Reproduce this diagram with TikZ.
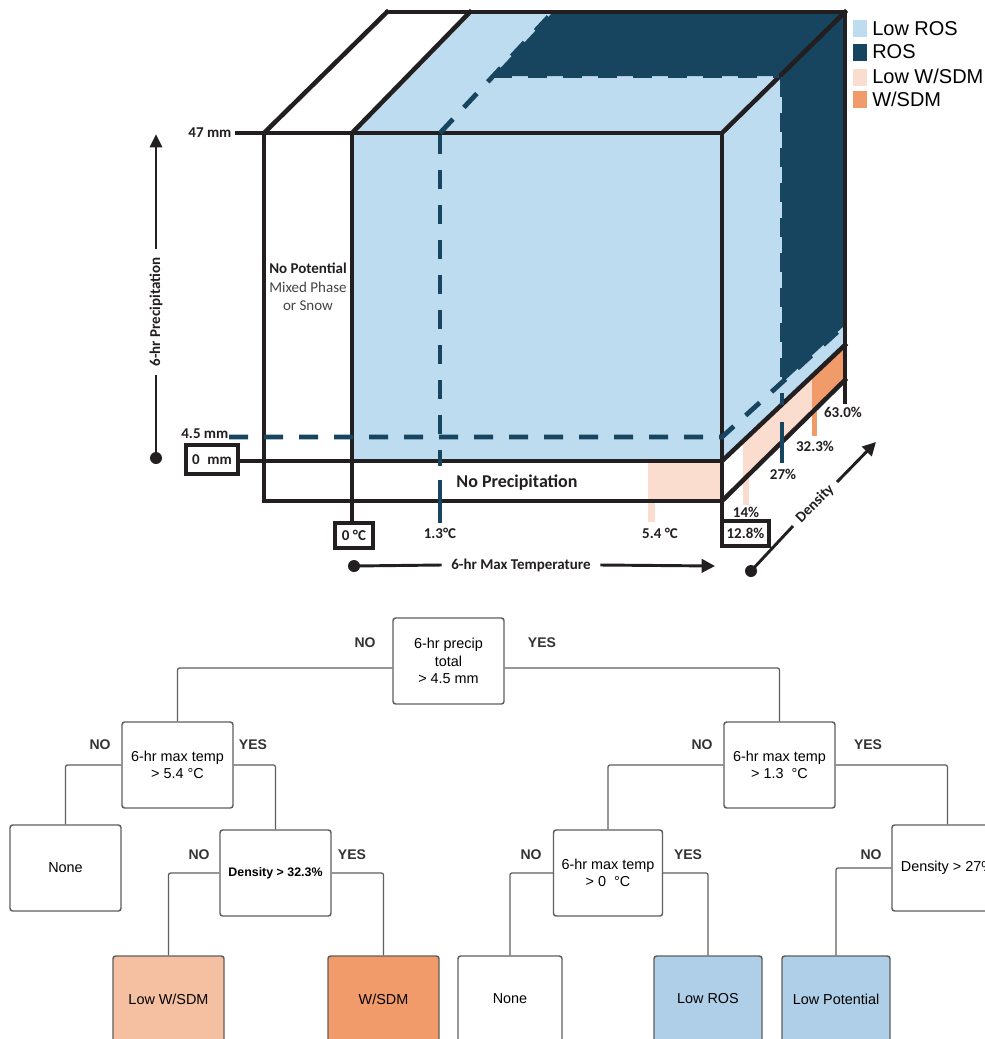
\documentclass[tikz,border=0pt]{standalone}
\usepackage{fontspec}
\setmainfont{Liberation Sans}
\newfontfamily\carl{Carlito}
\usetikzlibrary{arrows.meta,calc}
\definecolor{lblue}{HTML}{BDDCF0}
\definecolor{dblue}{HTML}{17445F}
\definecolor{lpeach}{HTML}{FBDDD0}
\definecolor{orng}{HTML}{F29B6A}
\definecolor{ink}{HTML}{231F20}
\definecolor{softink}{HTML}{444444}
\definecolor{tpeach}{HTML}{F5C0A2}
\definecolor{tblue}{HTML}{AECFE7}
\definecolor{tgray}{HTML}{5F5F5F}
\definecolor{yngray}{HTML}{333333}
\begin{document}
\begin{tikzpicture}[x=0.75pt,y=-0.75pt,
  blk/.style={draw=ink,line width=3.4pt,line cap=rect},
  dsh/.style={draw=dblue,line width=3.6pt,dash pattern=on 14.25pt off 12pt},
  dsolid/.style={draw=dblue,line width=3.6pt},
  lab/.style={font=\carl\bfseries\fontsize{11.25}{13}\selectfont,text=ink,inner sep=1pt},
  vbox/.style={draw=ink,line width=2.5pt,fill=white,font=\carl\bfseries\fontsize{11.25}{13}\selectfont,text=ink,inner sep=0pt},
  axis/.style={draw=ink,line width=2.2pt},
  leg/.style={font=\fontsize{15}{17}\selectfont,text=black,inner sep=0pt,anchor=west},
  tbox/.style={draw=tgray,line width=1.1pt,rounded corners=2pt,minimum width=83.25pt,minimum height=64.5pt,align=center,font=\fontsize{10.8}{13.2}\selectfont,inner sep=0pt,fill=white},
  tlink/.style={draw=tgray,line width=0.95pt,rounded corners=1.5pt},
  yn/.style={font=\bfseries\fontsize{10.5}{12}\selectfont,text=yngray,inner sep=0pt}
]
\useasboundingbox (0,0) rectangle (985,1039);
\fill[white] (0,0) rectangle (985,1039);
\clip (0,0) rectangle (985,1039);

% ---------- cube fills ----------
\fill[lblue] (352,133) rectangle (722,461);
\fill[lblue] (352,133) -- (470,12) -- (845,12) -- (722,133) -- cycle;
\fill[lblue] (722,133) -- (845,12) -- (845,345) -- (722,461) -- cycle;
\fill[dblue] (493,76) -- (782,76) -- (782,383) -- (845,325) -- (845,12) -- (553,12) -- cycle;

\fill[lpeach] (648,461) rectangle (722,501);
\fill[lpeach] (648,501) rectangle (655,522);
\fill[lpeach] (743,441.2) -- (812,376.1) -- (812,412.4) -- (743,480.3) -- cycle;
\fill[lpeach] (743,478) rectangle (749,505);
\fill[orng] (812,376.1) -- (845,345) -- (845,380) -- (812,412.4) -- cycle;
\fill[orng] (812,410) rectangle (817,436);

% ---------- cube black lines ----------
\draw[blk] (237,133) -- (722,133) -- (722,521);
\draw[blk] (387,12) -- (845,12) -- (845,402);
\draw[blk] (264,133) -- (264,501) -- (722,501);
\draw[blk] (352,133) -- (352,523);
\draw[blk] (238,461) -- (722,461);
\draw[blk] (264,133) -- (387,12);
\draw[blk] (352,133) -- (470,12);
\draw[blk] (722,133) -- (845,12);
\draw[blk] (722,461) -- (845,345);
\draw[blk] (722,501) -- (845,380);

% ---------- dashed thresholds ----------
\draw[dsh] (229,437) -- (722,437) -- (845,325);
\draw[dsh] (440,135) -- (440,466);
\draw[dsolid] (440,480) -- (440,523);
\draw[dsh] (440,133) -- (553,12);
\draw[dsh] (493,76) -- (779,76);
\draw[dsh] (782,78) -- (782,405);
\draw[dsolid] (782,422) -- (782,463);

% ---------- cube labels ----------
\node[lab,anchor=east] (l47) at (233,133) {47 mm};
\node[lab,anchor=east] (l45) at (230,434) {4.5 mm};
\node[vbox,minimum width=39pt,minimum height=21.75pt] (l0mm) at (212,459.5) {0\enspace mm};
\node[vbox,minimum width=28.5pt,minimum height=18.75pt] (l0c) at (354,535.5) {0 °C};
\node[vbox,minimum width=35.25pt,minimum height=18.75pt] (l128) at (745.5,533.5) {12.8\%};
\node[lab] (l13) at (440,533) {1.3°C};
\node[lab] (l54) at (660,533) {5.4 °C};
\node[lab] (l14) at (746,512) {14\%};
\node[lab] (l27) at (783,474) {27\%};
\node[lab] (l323) at (815,446) {32.3\%};
\node[lab] (l63) at (843,412) {63.0\%};
\node[font=\carl\bfseries\fontsize{13.5}{16}\selectfont,text=ink] (nprec) at (517,483) {No Precipitation};
\node[align=center,font=\carl\fontsize{11.25}{13.9}\selectfont,text=softink] (npot) at (308,287)
  {\textcolor{ink}{\bfseries No Potential}\\Mixed Phase\\or Snow};

% precipitation axis
\coordinate (pdot) at (156,458);
\coordinate (ptip) at (156,134);
\node[lab,rotate=90,inner sep=0pt] (pl) at (156,312) {6-hr Precipitation};
\fill[ink] (pdot) circle (4.5pt);
\draw[axis] (pdot) -- ($(pl.west)!-6pt!(pl.east)$);
\draw[axis,-{Triangle[length=10pt,width=9pt]}] ($(pl.east)!-6pt!(pl.west)$) -- (ptip);

% temperature axis
\coordinate (tdot) at (354,566);
\coordinate (ttip) at (715,566);
\node[lab,inner sep=0pt] (tl) at (521,565) {6-hr Max Temperature};
\fill[ink] (tdot) circle (4.5pt);
\draw[axis] (tdot) -- ($(tl.west)!-7pt!(tl.east)$);
\draw[axis,-{Triangle[length=10pt,width=10pt]}] ($(tl.east)!-7pt!(tl.west)$) -- (ttip);

% density axis
\coordinate (ddot) at (751,571);
\coordinate (dtip) at (876,442);
\node[lab,rotate=45,inner sep=0pt] (dl) at (815,504) {Density};
\fill[ink] (ddot) circle (4.5pt);
\draw[axis] (ddot) -- ($(dl.west)!-5.5pt!(dl.east)$);
\draw[axis,-{Triangle[length=10pt,width=10pt]}] ($(dl.east)!-5.5pt!(dl.west)$) -- (dtip);

% ---------- legend ----------
\fill[lblue] (853,20) rectangle (867,37);
\fill[dblue] (853,44) rectangle (867,61);
\fill[lpeach] (853,69) rectangle (867,86);
\fill[orng] (853,91) rectangle (867,108);
\node[leg] (lg1) at (872,28.5) {Low ROS};
\node[leg] (lg2) at (872,52) {ROS};
\node[leg] (lg3) at (872,76) {Low W/SDM};
\node[leg] (lg4) at (872,99.5) {W/SDM};

% ---------- decision tree ----------
\node[tbox] (root) at (448.5,661) {6-hr precip\\total\\> 4.5 mm};
\node[tbox] (l2a) at (177.5,765) {6-hr max temp\\> 5.4 °C};
\node[tbox] (l2b) at (779.5,765) {6-hr max temp\\> 1.3\ \ °C};
\node[tbox] (none1) at (65.5,868) {None};
\node[tbox,font=\bfseries\fontsize{9.3}{11}\selectfont] (d32) at (275.5,873) {Density > 32.3\%};
\node[tbox,fill=tpeach] (lwsdm) at (168.5,999) {Low W/SDM};
\node[tbox,fill=orng] (wsdm) at (383.5,999) {W/SDM};
\node[tbox,minimum width=81.75pt] (t0) at (608,873) {6-hr max temp\\> 0\ \ °C};
\node[tbox,minimum width=78pt] (none2) at (510,999) {None};
\node[tbox,fill=tblue,minimum width=81pt] (lros) at (708,999) {Low ROS};
\node[tbox,fill=tblue,minimum width=81pt] (lpot) at (836,999) {Low Potential};
\node[tbox] (d27) at (947.5,868) {Density > 27\%};

\draw[tlink] ($(root.west)+(0,7)$) -| (l2a.north);
\draw[tlink] ($(root.east)+(0,7)$) -| (l2b.north);
\draw[tlink] (l2a.west) -| (none1.north);
\draw[tlink] (l2a.east) -| (d32.north);
\draw[tlink] (d32.west) -| (lwsdm.north);
\draw[tlink] (d32.east) -| (wsdm.north);
\draw[tlink] (l2b.west) -| (t0.north);
\draw[tlink] (l2b.east) -| (d27.north);
\draw[tlink] (t0.west) -| (none2.north);
\draw[tlink] (t0.east) -| (lros.north);
\draw[tlink] (d27.west) -| (lpot.north);

\node[yn] (yn1) at (365,643) {NO};
\node[yn] (yn2) at (542,643) {YES};
\node[yn] (yn3) at (100,745) {NO};
\node[yn] (yn4) at (253,745) {YES};
\node[yn] (yn5) at (199,855) {NO};
\node[yn] (yn6) at (352,855) {YES};
\node[yn] (yn7) at (702,745) {NO};
\node[yn] (yn8) at (868,745) {YES};
\node[yn] (yn9) at (531,855) {NO};
\node[yn] (yn10) at (688,855) {YES};
\node[yn] (yn11) at (871,855) {NO};
\end{tikzpicture}
\end{document}
